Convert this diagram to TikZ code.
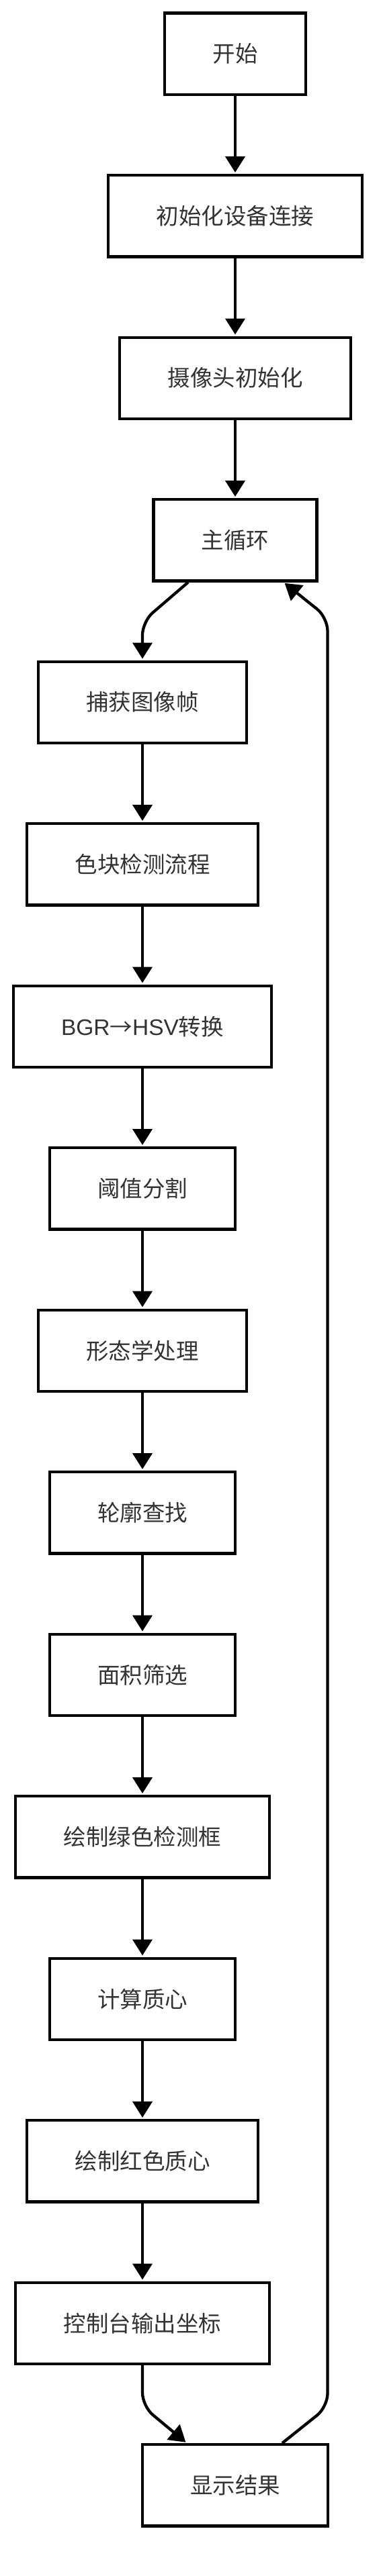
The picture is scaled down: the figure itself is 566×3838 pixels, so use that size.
\documentclass[tikz,border=0pt]{standalone}
\usepackage{fontspec}
\setmainfont{Noto Sans CJK SC}
\newfontfamily\latinfont{Liberation Sans}
\usetikzlibrary{arrows.meta}
\definecolor{txt}{HTML}{333333}
\begin{document}
\begin{tikzpicture}[x=1pt,y=-1pt,
  box/.style={draw=black, line width=4.3pt, fill=white, inner sep=0pt,
    minimum height=121.2pt, text=txt, font=\fontsize{33.5}{40}\selectfont},
  wa/.style={box, minimum width=209.4pt},
  wb/.style={box, minimum width=243pt},
  wc/.style={box, minimum width=276.6pt},
  wd/.style={box, minimum width=310.2pt},
  we/.style={box, minimum width=343.8pt},
  wf/.style={box, minimum width=377.4pt},
  wg/.style={box, minimum width=383.7pt},
  flow/.style={draw=black, line width=4.3pt, -{Triangle[width=29pt,length=24pt]},
    shorten >=2pt, rounded corners=20pt},
]
\fill[white] (0,0) rectangle (566,3838);
\useasboundingbox (0,0) rectangle (566,3838);

\node[wa] (start) at (350,80.25) {开始};
\node[wf] (init) at (350,321.75) {初始化设备连接};
\node[we] (cam) at (350,563.25) {摄像头初始化};
\node[wb] (loop) at (350,804.75) {主循环};
\node[wd] (cap) at (212,1046.25) {捕获图像帧};
\node[we] (det) at (212,1287.75) {色块检测流程};
\node[wg] (hsv) at (212,1529.25) {{\latinfont BGR}→{\latinfont HSV}转换};
\node[wc] (thr) at (212,1770.75) {阈值分割};
\node[wd] (morph) at (212,2012.25) {形态学处理};
\node[wc] (cont) at (212,2253.75) {轮廓查找};
\node[wc] (area) at (212,2495.25) {面积筛选};
\node[wf] (green) at (212,2736.75) {绘制绿色检测框};
\node[wc] (cent) at (212,2978.25) {计算质心};
\node[we] (red) at (212,3219.75) {绘制红色质心};
\node[wf] (cons) at (212,3461.25) {控制台输出坐标};
\node[wc] (disp) at (350,3702.75) {显示结果};

\coordinate (c1) at (212,926);
\coordinate (c2) at (212,3585);
\coordinate (c3) at (487.5,3586);
\coordinate (c4) at (487.5,920);

\draw[flow] (start) -- (init);
\draw[flow] (init) -- (cam);
\draw[flow] (cam) -- (loop);
\draw[flow] ([xshift=-70pt]loop.south) -- (c1) -- (cap.north);
\draw[flow] (cap) -- (det);
\draw[flow] (det) -- (hsv);
\draw[flow] (hsv) -- (thr);
\draw[flow] (thr) -- (morph);
\draw[flow] (morph) -- (cont);
\draw[flow] (cont) -- (area);
\draw[flow] (area) -- (green);
\draw[flow] (green) -- (cent);
\draw[flow] (cent) -- (red);
\draw[flow] (red) -- (cons);
\draw[flow] (cons.south) -- (c2) -- ([xshift=-72pt]disp.north);
\draw[flow] ([xshift=70pt]disp.north) -- (c3) -- (c4) -- ([xshift=72pt]loop.south);
\end{tikzpicture}
\end{document}
